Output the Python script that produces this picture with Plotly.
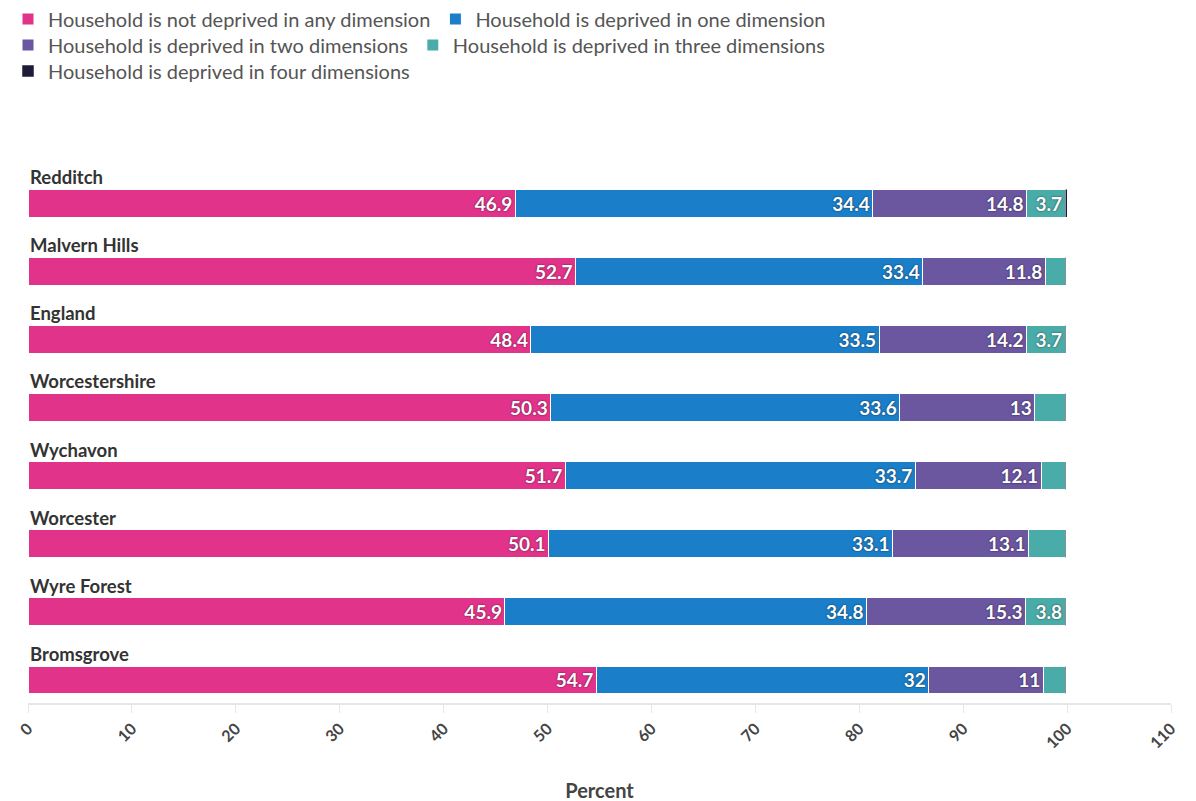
import plotly.graph_objects as go

areas = ["Redditch", "Malvern Hills", "England", "Worcestershire", "Wychavon",
         "Worcester", "Wyre Forest", "Bromsgrove"]
series_names = [
    "Household is not deprived in any dimension",
    "Household is deprived in one dimension",
    "Household is deprived in two dimensions",
    "Household is deprived in three dimensions",
    "Household is deprived in four dimensions",
]
not_deprived = [46.9, 52.7, 48.4, 50.3, 51.7, 50.1, 45.9, 54.7]
one_dim = [34.4, 33.4, 33.5, 33.6, 33.7, 33.1, 34.8, 32.0]
two_dim = [14.8, 11.8, 14.2, 13.0, 12.1, 13.1, 15.3, 11.0]
three_dim = [3.7, 1.9, 3.7, 2.9, 2.3, 3.5, 3.8, 2.1]
four_dim = [0.2, 0.1, 0.1, 0.1, 0.1, 0.1, 0.1, 0.1]
colors = ["#E2338B", "#1B7EC8", "#6B56A0", "#4AACA8", "#1E1B3A"]

all_series = [not_deprived, one_dim, two_dim, three_dim, four_dim]
legend_ids = ["legend", "legend", "legend2", "legend2", "legend3"]
order_bottom_up = areas[::-1]

FONT = "Lato"
H = 801
fig = go.Figure()
for i, (name, vals, col) in enumerate(zip(series_names, all_series, colors)):
    texts = [f"{v:g}" if v >= 3.6 else "" for v in vals]
    fig.add_trace(go.Bar(
        y=areas, x=vals, name=name, orientation="h",
        marker=dict(color=col, line=dict(color="white", width=0.5 if i == 4 else 1)),
        width=0.41,
        text=texts, textposition="inside", insidetextanchor="end",
        textangle=0,
        textfont=dict(color="white", size=19, family=FONT, weight="bold",
                      shadow="0px 0px 2px rgba(0,0,0,0.7)"),
        constraintext="none",
        legend=legend_ids[i],
        hoverinfo="x+name",
    ))

for a in areas:
    fig.add_annotation(x=0, y=a, xref="x", yref="y", text=f"<b>{a}</b>",
                       showarrow=False, xanchor="left", yanchor="middle",
                       yshift=26, font=dict(size=18.5, color="#333333", family=FONT))

leg_common = dict(orientation="h", xref="container", x=-5 / 1196, xanchor="left",
                  yref="container", yanchor="middle",
                  font=dict(size=20, color="#555555", family=FONT),
                  itemwidth=30, traceorder="normal", bgcolor="rgba(0,0,0,0)")

fig.update_layout(
    barmode="stack",
    width=1196, height=H,
    margin=dict(l=20, r=33, t=162, b=106, autoexpand=False),
    paper_bgcolor="white", plot_bgcolor="white",
    font=dict(family=FONT, color="#555555"),
    legend=dict(leg_common, y=1 - 11 / H),
    legend2=dict(leg_common, y=1 - 37 / H),
    legend3=dict(leg_common, y=1 - 63 / H),
    xaxis=dict(range=[0, 110], dtick=10, tickangle=-45, showgrid=False,
               showline=True, linecolor="#e6e6e6", linewidth=2,
               ticks="outside", ticklen=8, tickcolor="#e6e6e6",
               tickfont=dict(size=16, color="#444444", family=FONT, weight="bold"),
               title=dict(text="<b>Percent</b>", font=dict(size=20, color="#444444"),
                          standoff=33),
               zeroline=False, automargin=False),
    yaxis=dict(categoryorder="array", categoryarray=order_bottom_up,
               range=[-0.338, 7.485], showticklabels=False, showgrid=False,
               zeroline=False, showline=False, automargin=False),
)

fig.write_html("out.html")
